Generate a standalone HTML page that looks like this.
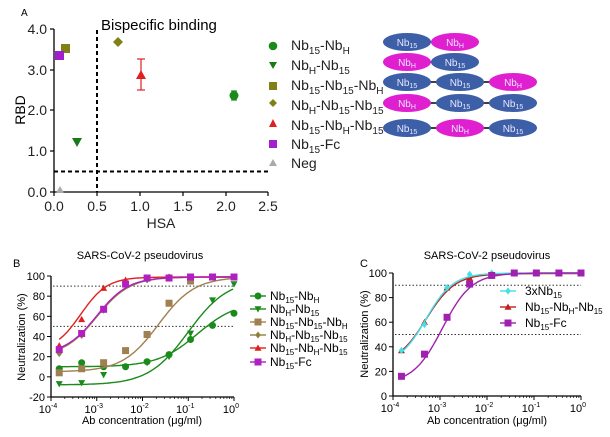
<!DOCTYPE html>
<html><head><meta charset="utf-8"><style>
body{margin:0;background:#fff}
svg{display:block;font-family:"Liberation Sans",Arial,sans-serif}
</style></head><body>
<svg id="s" width="610" height="437" viewBox="0 0 610 437" xmlns="http://www.w3.org/2000/svg">
<text x="21" y="16" font-size="10">A</text>
<g stroke="#000" stroke-width="1.3" fill="none">
<line x1="54" y1="29" x2="54" y2="192"/><line x1="54" y1="192" x2="268" y2="192"/>
</g>
<g stroke="#000" stroke-width="1.2">
<line x1="50" y1="29" x2="54" y2="29"/><line x1="50" y1="70" x2="54" y2="70"/><line x1="50" y1="110" x2="54" y2="110"/><line x1="50" y1="151" x2="54" y2="151"/><line x1="50" y1="192" x2="54" y2="192"/>
<line x1="54" y1="192" x2="54" y2="196"/><line x1="97" y1="192" x2="97" y2="196"/><line x1="140" y1="192" x2="140" y2="196"/><line x1="183" y1="192" x2="183" y2="196"/><line x1="226" y1="192" x2="226" y2="196"/><line x1="268" y1="192" x2="268" y2="196"/>
</g>
<g font-size="14" text-anchor="end" fill="#222">
<text x="47" y="34">4.0</text><text x="47" y="75">3.0</text><text x="47" y="115">2.0</text><text x="47" y="156">1.0</text><text x="47" y="197">0.0</text>
</g>
<g font-size="14" text-anchor="middle" fill="#222">
<text x="54" y="211">0.0</text><text x="97" y="211">0.5</text><text x="140" y="211">1.0</text><text x="183" y="211">1.5</text><text x="226" y="211">2.0</text><text x="268" y="211">2.5</text>
<text x="161" y="228">HSA</text>
</g>
<text transform="translate(25,110) rotate(-90)" font-size="14" text-anchor="middle">RBD</text>
<line x1="97" y1="30" x2="97" y2="192" stroke="#000" stroke-width="2" stroke-dasharray="4,3"/>
<line x1="54" y1="171.5" x2="268" y2="171.5" stroke="#000" stroke-width="2" stroke-dasharray="4,3"/>
<text x="101" y="30" font-size="15">Bispecific binding</text>
<g stroke="#d22" stroke-width="1.2"><line x1="141" y1="59" x2="141" y2="90"/><line x1="137" y1="59" x2="145" y2="59"/><line x1="137" y1="90" x2="145" y2="90"/></g>
<g stroke="#1a8a1a" stroke-width="1.2"><line x1="234" y1="91" x2="234" y2="100"/><line x1="231" y1="91" x2="237" y2="91"/><line x1="231" y1="100" x2="237" y2="100"/></g>
<circle cx="234" cy="95.5" r="4.5" fill="#1a8a1a"/>
<polygon points="72,138 82,138 77,147" fill="#1a7a1a"/>
<rect x="61" y="44" width="9" height="9" fill="#808016"/>
<polygon points="118,37 123,42 118,47 113,42" fill="#808016"/>
<polygon points="141,70 146,79 136,79" fill="#e02020"/>
<rect x="55" y="51" width="9" height="9" fill="#a020d0"/>
<polygon points="60,186 64,193 56,193" fill="#aaa"/>
<circle cx="273" cy="46" r="4.3" fill="#1a8a1a"/>
<polygon points="269,62 277,62 273,69" fill="#1a7a1a"/>
<rect x="269" y="82" width="8" height="8" fill="#808016"/>
<polygon points="273,99 277,103 273,107 269,103" fill="#808016"/>
<polygon points="273,119 277,127 269,127" fill="#e02020"/>
<rect x="269" y="140" width="8" height="8" fill="#a020d0"/>
<polygon points="273,159 277,166 269,166" fill="#aaa"/>
<g font-size="14" fill="#222">
<text x="291" y="50">Nb<tspan font-size="10" dy="4">15</tspan><tspan dy="-4">-Nb</tspan><tspan font-size="10" dy="4">H</tspan></text>
<text x="291" y="70">Nb<tspan font-size="10" dy="4">H</tspan><tspan dy="-4">-Nb</tspan><tspan font-size="10" dy="4">15</tspan></text>
<text x="291" y="90">Nb<tspan font-size="10" dy="4">15</tspan><tspan dy="-4">-Nb</tspan><tspan font-size="10" dy="4">15</tspan><tspan dy="-4">-Nb</tspan><tspan font-size="10" dy="4">H</tspan></text>
<text x="291" y="110">Nb<tspan font-size="10" dy="4">H</tspan><tspan dy="-4">-Nb</tspan><tspan font-size="10" dy="4">15</tspan><tspan dy="-4">-Nb</tspan><tspan font-size="10" dy="4">15</tspan></text>
<text x="291" y="130">Nb<tspan font-size="10" dy="4">15</tspan><tspan dy="-4">-Nb</tspan><tspan font-size="10" dy="4">H</tspan><tspan dy="-4">-Nb</tspan><tspan font-size="10" dy="4">15</tspan></text>
<text x="291" y="149">Nb<tspan font-size="10" dy="4">15</tspan><tspan dy="-4">-Fc</tspan></text>
<text x="291" y="168">Neg</text>
</g>
<g id="ell"></g>
<text x="13" y="267" font-size="11">B</text>
<text x="140" y="259" font-size="11" text-anchor="middle">SARS-CoV-2 pseudovirus</text>
<g id="pb"></g>
<text transform="translate(25,337) rotate(-90)" font-size="11" text-anchor="middle">Neutralization (%)</text>
<text x="142" y="424" font-size="11" text-anchor="middle">Ab concentration (μg/ml)</text>
<text x="360" y="267" font-size="11">C</text>
<text x="487" y="259" font-size="11" text-anchor="middle">SARS-CoV-2 pseudovirus</text>
<g id="pc"></g>
<text transform="translate(368,334) rotate(-90)" font-size="11" text-anchor="middle">Neutralization (%)</text>
<text x="487" y="424" font-size="11" text-anchor="middle">Ab concentration (μg/ml)</text>
</svg>
<script>
const NS="http://www.w3.org/2000/svg";
function el(p,t,a,txt){const e=document.createElementNS(NS,t);for(const k in a)e.setAttribute(k,a[k]);if(txt!==undefined)e.textContent=txt;p.appendChild(e);return e;}
const ell=document.getElementById('ell');
const B="#3d5fa8",M="#e020d0";
const rows=[[42,[[407,B,'15'],[455,M,'H']]],[62,[[407,M,'H'],[455,B,'15']]],[82,[[407,B,'15'],[460,B,'15'],[513,M,'H']]],[103,[[407,M,'H'],[460,B,'15'],[513,B,'15']]],[128,[[407,B,'15'],[460,M,'H'],[513,B,'15']]]];
rows.forEach(([y,cs])=>{el(ell,'line',{x1:cs[0][0],y1:y,x2:cs[cs.length-1][0],y2:y,stroke:'#000','stroke-width':1.5});
cs.forEach(([x,c,s])=>{el(ell,'ellipse',{cx:x,cy:y,rx:24,ry:9,fill:c});const t=el(ell,'text',{x:x,y:y+4,'font-size':10,fill:'#e8e8ff','text-anchor':'middle'});t.innerHTML='Nb<tspan font-size="7" dy="2">'+s+'</tspan>';});});
function mk(g,type,x,y,c,s){s=s||3.5;
 if(type=='c')el(g,'circle',{cx:x,cy:y,r:s,fill:c});
 else if(type=='s')el(g,'rect',{x:x-s,y:y-s,width:2*s,height:2*s,fill:c});
 else if(type=='t')el(g,'polygon',{points:`${x},${y-s} ${x+s},${y+s*0.8} ${x-s},${y+s*0.8}`,fill:c});
 else if(type=='v')el(g,'polygon',{points:`${x-s},${y-s*0.8} ${x+s},${y-s*0.8} ${x},${y+s}`,fill:c});
 else if(type=='d')el(g,'polygon',{points:`${x},${y-s} ${x+s*0.8},${y} ${x},${y+s} ${x-s*0.8},${y}`,fill:c});
}
function panel(id,x0,x1,ytop,ybot,vmin,ticks,series,leg){
 const g=document.getElementById(id);
 const X=l=>x0+(l+4)*(x1-x0)/4, Y=v=>ytop+(100-v)*(ybot-ytop)/(100-vmin);
 el(g,'line',{x1:x0,y1:ytop,x2:x0,y2:ybot,stroke:'#000','stroke-width':1.3});
 el(g,'line',{x1:x0,y1:ybot,x2:x1,y2:ybot,stroke:'#000','stroke-width':1.3});
 ticks.forEach(v=>{el(g,'line',{x1:x0-4,y1:Y(v),x2:x0,y2:Y(v),stroke:'#000'});el(g,'text',{x:x0-6,y:Y(v)+4,'font-size':11,'text-anchor':'end'},v);});
 for(let d=-4;d<=0;d++){el(g,'line',{x1:X(d),y1:ybot,x2:X(d),y2:ybot+4,stroke:'#000'});
  for(let k=2;k<10&&d<0;k++){const xx=X(d+Math.log10(k));el(g,'line',{x1:xx,y1:ybot,x2:xx,y2:ybot+2,stroke:'#000','stroke-width':0.7});}
  const t=el(g,'text',{x:X(d)-3,y:ybot+16,'font-size':11,'text-anchor':'middle'});t.innerHTML='10<tspan font-size="7" dy="-5">'+d+'</tspan>';}
 [90,50].forEach(v=>el(g,'line',{x1:x0+2,y1:Y(v),x2:x1,y2:Y(v),stroke:'#333','stroke-dasharray':'1.5,2'}));
 const xs=[-3.82,-3.33,-2.85,-2.37,-1.9,-1.42,-0.95,-0.47,0];
 series.forEach(([type,c,vals,p])=>{
  const [b,t,ec,h]=p;let d='';
  for(let l=-3.82;l<=0.001;l+=0.04){const v=b+(t-b)/(1+Math.pow(10,(ec-l)*h));d+=(d?'L':'M')+X(l).toFixed(1)+','+Y(v).toFixed(1);}
  el(g,'path',{d:d,fill:'none',stroke:c,'stroke-width':1.4});
  vals.forEach((v,i)=>mk(g,type,X(xs[i]),Y(v),c));});
 leg.forEach(([type,c,html,lx,ly,tx])=>{el(g,'line',{x1:lx-8,y1:ly,x2:lx+8,y2:ly,stroke:c,'stroke-width':1.4});mk(g,type,lx,ly,c);
  const t=el(g,'text',{x:tx,y:ly+4,'font-size':12});t.innerHTML=html;});
}
const s=(a)=>'<tspan font-size="8" dy="3">'+a+'</tspan><tspan dy="-3">';
panel('pb',51,234,276,397,-20,[100,80,60,40,20,0,-20],[
 ['c','#1a8a1a',[8,14,10,10,15,22,37,51,63],[10,75,-0.8,1]],
 ['v','#1a8a1a',[-7,-6,2,10,14,20,43,76,92],[-8,97,-1.0,1.0]],
 ['s','#a08050',[4,8,14,26,42,73,95,99,99],[5,99,-1.65,1.1]],
 ['d','#908040',[23,41,66,91,96,99,99,99,99],[20,99,-3.0,1.2]],
 ['t','#e02020',[31,57,88,96,98,99,99,99,99],[25,99,-3.35,1.5]],
 ['s','#b020c0',[27,43,67,92,98,98,99,99,99],[22,99,-3.0,1.25]]
],[
 ['c','#1a8a1a','Nb'+s('15')+'-Nb'+s('H')+'</tspan></tspan>',258,296,270],
 ['v','#1a8a1a','Nb'+s('H')+'-Nb'+s('15')+'</tspan></tspan>',258,309,270],
 ['s','#a08050','Nb'+s('15')+'-Nb'+s('15')+'-Nb'+s('H')+'</tspan></tspan></tspan>',258,322,270],
 ['d','#908040','Nb'+s('H')+'-Nb'+s('15')+'-Nb'+s('15')+'</tspan></tspan></tspan>',258,335,270],
 ['t','#e02020','Nb'+s('15')+'-Nb'+s('H')+'-Nb'+s('15')+'</tspan></tspan></tspan>',258,348,270],
 ['s','#b020c0','Nb'+s('15')+'-Fc</tspan>',258,362,270]
]);
panel('pc',393,581,273,396,0,[100,80,60,40,20,0],[
 ['t','#c02020',[37,60,88,96,99,100,100,100,100],[25,99.5,-3.3,1.4]],
 ['d','#40e0e8',[37,58,88,99,100,100,100,100,100],[25,100,-3.3,1.5]],
 ['s','#a020b0',[16,34,64,91,98,100,100,100,100],[10,100,-2.95,1.4]]
],[
 ['d','#40e0e8','3xNb'+s('15')+'</tspan>',508,291,525],
 ['t','#c02020','Nb'+s('15')+'-Nb'+s('H')+'-Nb'+s('15')+'</tspan></tspan></tspan>',508,307,525],
 ['s','#a020b0','Nb'+s('15')+'-Fc</tspan>',508,323,525]
]);
</script>
</body></html>
